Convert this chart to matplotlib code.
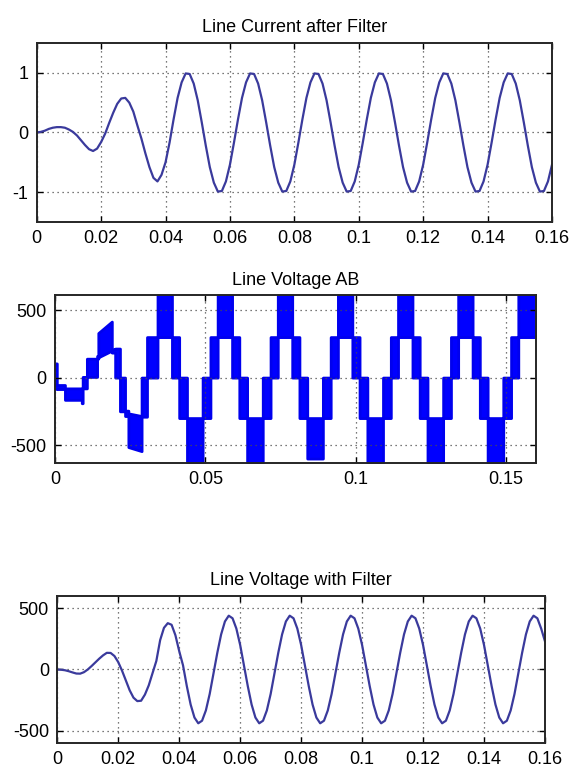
import matplotlib
matplotlib.use('Agg')
import matplotlib.pyplot as plt

plt.rcParams['font.family'] = ['Liberation Sans', 'DejaVu Sans']
plt.rcParams['font.size'] = 13
plt.rcParams['axes.unicode_minus'] = False

# sample times in ms (shared by the two filtered waveforms)
t_ms = [0, 1.25, 2.5, 3.75, 5, 6.25, 7.5, 8.75, 10, 11.25, 12.5, 13.75, 15, 16.25, 17.5, 18.75,
        20, 21.25, 22.5, 23.75, 25, 26.25, 27.5, 28.75, 30, 31.25, 32.5, 33.75, 35, 36.25, 37.5, 38.75,
        40, 41.25, 42.5, 43.75, 45, 46.25, 47.5, 48.75, 50, 51.25, 52.5, 53.75, 55, 56.25, 57.5, 58.75,
        60, 61.25, 62.5, 63.75, 65, 66.25, 67.5, 68.75, 70, 71.25, 72.5, 73.75, 75, 76.25, 77.5, 78.75,
        80, 81.25, 82.5, 83.75, 85, 86.25, 87.5, 88.75, 90, 91.25, 92.5, 93.75, 95, 96.25, 97.5, 98.75,
        100, 101.25, 102.5, 103.75, 105, 106.25, 107.5, 108.75, 110, 111.25, 112.5, 113.75, 115, 116.25, 117.5, 118.75,
        120, 121.25, 122.5, 123.75, 125, 126.25, 127.5, 128.75, 130, 131.25, 132.5, 133.75, 135, 136.25, 137.5, 138.75,
        140, 141.25, 142.5, 143.75, 145, 146.25, 147.5, 148.75, 150, 151.25, 152.5, 153.75, 155, 156.25, 157.5, 158.75,
        160]

# line current after filter (pu)
i_line = [0, 0.01, 0.03, 0.06, 0.08, 0.09, 0.09, 0.08, 0.05, 0.01, -0.05, -0.13, -0.21, -0.28, -0.31, -0.27,
          -0.16, -0.02, 0.16, 0.33, 0.48, 0.57, 0.58, 0.5, 0.35, 0.12, -0.1, -0.35, -0.58, -0.76, -0.82, -0.71,
          -0.5, -0.17, 0.22, 0.58, 0.84, 0.99, 0.98, 0.82, 0.54, 0.17, -0.22, -0.58, -0.84, -0.99, -0.98, -0.82,
          -0.54, -0.17, 0.22, 0.58, 0.84, 0.99, 0.98, 0.82, 0.54, 0.17, -0.22, -0.58, -0.84, -0.99, -0.98, -0.82,
          -0.54, -0.17, 0.22, 0.58, 0.84, 0.99, 0.98, 0.82, 0.54, 0.17, -0.22, -0.58, -0.84, -0.99, -0.98, -0.82,
          -0.54, -0.17, 0.22, 0.58, 0.84, 0.99, 0.98, 0.82, 0.54, 0.17, -0.22, -0.58, -0.84, -0.99, -0.98, -0.82,
          -0.54, -0.17, 0.22, 0.58, 0.84, 0.99, 0.98, 0.82, 0.54, 0.17, -0.22, -0.58, -0.84, -0.99, -0.98, -0.82,
          -0.54, -0.17, 0.22, 0.58, 0.84, 0.99, 0.98, 0.82, 0.54, 0.17, -0.22, -0.58, -0.84, -0.99, -0.98, -0.82,
          -0.54]

# line voltage with filter (V)
v_filt = [0, -2, -6, -14, -24, -33, -34, -22, 0, 28, 58, 88, 115, 136, 135, 110,
          60, -10, -90, -170, -230, -258, -255, -205, -130, -30, 70, 240, 340, 378, 365, 280,
          150, 34, -136, -286, -392, -439, -418, -334, -200, -34, 136, 286, 392, 439, 418, 334,
          200, 34, -136, -286, -392, -439, -418, -334, -200, -34, 136, 286, 392, 439, 418, 334,
          200, 34, -136, -286, -392, -439, -418, -334, -200, -34, 136, 286, 392, 439, 418, 334,
          200, 34, -136, -286, -392, -439, -418, -334, -200, -34, 136, 286, 392, 439, 418, 334,
          200, 34, -136, -286, -392, -439, -418, -334, -200, -34, 136, 286, 392, 439, 418, 334,
          200, 34, -136, -286, -392, -439, -418, -334, -200, -34, 136, 286, 392, 439, 418, 334,
          230]

# line voltage AB (unfiltered, PWM): envelope of the switching band
vab_t = [0.0, 0.0006, 0.0006, 0.0033, 0.0033, 0.0089, 0.0089, 0.0092, 0.0092, 0.0106,
         0.0106, 0.0140, 0.0140, 0.0144, 0.0144, 0.0189, 0.0189, 0.0200, 0.0200, 0.0216,
         0.0216, 0.0233, 0.0233, 0.0244, 0.0244, 0.0288, 0.0288, 0.0306, 0.0306, 0.0341,
         0.0341, 0.0389, 0.0389, 0.0413, 0.0413, 0.0439, 0.0439, 0.0491, 0.0491, 0.0517, 0.0517, 0.0541,
         0.0541, 0.0589, 0.0589, 0.0613, 0.0613, 0.0639, 0.0639, 0.0691, 0.0691, 0.0717, 0.0717, 0.0741,
         0.0741, 0.0789, 0.0789, 0.0813, 0.0813, 0.0839, 0.0839, 0.0891, 0.0891, 0.0917, 0.0917, 0.0941,
         0.0941, 0.0989, 0.0989, 0.1013, 0.1013, 0.1039, 0.1039, 0.1091, 0.1091, 0.1117, 0.1117, 0.1141,
         0.1141, 0.1189, 0.1189, 0.1213, 0.1213, 0.1239, 0.1239, 0.1291, 0.1291, 0.1317, 0.1317, 0.1341,
         0.1341, 0.1389, 0.1389, 0.1413, 0.1413, 0.1439, 0.1439, 0.1491, 0.1491, 0.1517, 0.1517, 0.1541,
         0.1541, 0.1600]
vab_lo = [-80, -80, -85, -85, -165, -165, -190, -190, -80, -80,
          5, 5, 140, 140, 150, 200, 185, 185, 0, 0,
          -250, -250, -285, -285, -515, -545, -290, -290, 0, 0,
          300, 300, 0, 0, -300, -300, -700, -700, -300, -300, 0, 0,
          300, 300, 0, 0, -300, -300, -700, -700, -300, -300, 0, 0,
          300, 300, 0, 0, -300, -300, -600, -600, -300, -300, 0, 0,
          300, 300, 0, 0, -300, -300, -700, -700, -300, -300, 0, 0,
          300, 300, 0, 0, -300, -300, -700, -700, -300, -300, 0, 0,
          300, 300, 0, 0, -300, -300, -700, -700, -300, -300, 0, 0,
          300, 300]
vab_hi = [105, 105, -55, -55, -80, -80, -80, -80, 5, 5,
          140, 140, 160, 160, 330, 415, 210, 210, 215, 215,
          0, 0, -245, -245, -265, -285, 0, 0, 300, 300,
          700, 700, 300, 300, 0, 0, -300, -300, 0, 0, 300, 300,
          700, 700, 300, 300, 0, 0, -300, -300, 0, 0, 300, 300,
          700, 700, 300, 300, 0, 0, -300, -300, 0, 0, 300, 300,
          700, 700, 300, 300, 0, 0, -300, -300, 0, 0, 300, 300,
          700, 700, 300, 300, 0, 0, -300, -300, 0, 0, 300, 300,
          700, 700, 300, 300, 0, 0, -300, -300, 0, 0, 300, 300,
          700, 700]

t_s = [x / 1000.0 for x in t_ms]

fig = plt.figure(figsize=(5.7, 7.69), dpi=100)
ax1 = fig.add_axes([0.0644, 0.7113, 0.904, 0.2328])
ax2 = fig.add_axes([0.0965, 0.3979, 0.8439, 0.2185])
ax3 = fig.add_axes([0.1005, 0.0338, 0.8556, 0.1912])

line_col = '#3a3a9c'

ax1.plot(t_s, i_line, color=line_col, lw=1.6)
ax1.set_xlim(0, 0.16)
ax1.set_ylim(-1.5, 1.5)
ax1.set_xticks([0, 0.02, 0.04, 0.06, 0.08, 0.1, 0.12, 0.14, 0.16])
ax1.set_xticklabels(['0', '0.02', '0.04', '0.06', '0.08', '0.1', '0.12', '0.14', '0.16'])
ax1.set_yticks([-1, 0, 1])
ax1.set_title('Line Current after Filter', fontsize=13, pad=8)

ax2.fill_between(vab_t, vab_lo, vab_hi, color='#0000ff', lw=2.0, edgecolor='#0000ee')
ax2.set_xlim(0, 0.16)
ax2.set_ylim(-633, 612)
ax2.set_xticks([0, 0.05, 0.1, 0.15])
ax2.set_xticklabels(['0', '0.05', '0.1', '0.15'])
ax2.set_yticks([-500, 0, 500])
ax2.set_title('Line Voltage AB', fontsize=13, pad=7)

ax3.plot(t_s, v_filt, color=line_col, lw=1.6)
ax3.set_xlim(0, 0.16)
ax3.set_ylim(-600, 600)
ax3.set_xticks([0, 0.02, 0.04, 0.06, 0.08, 0.1, 0.12, 0.14, 0.16])
ax3.set_xticklabels(['0', '0.02', '0.04', '0.06', '0.08', '0.1', '0.12', '0.14', '0.16'])
ax3.set_yticks([-500, 0, 500])
ax3.set_title('Line Voltage with Filter', fontsize=13, pad=8)

for ax in (ax1, ax2, ax3):
    ax.grid(True, linestyle=(0, (1, 3)), color='0.3', lw=0.9)
    ax.tick_params(direction='in', top=True, right=True, length=4, width=1, labelsize=13, pad=6)
    for sp in ax.spines.values():
        sp.set_linewidth(1.4)
        sp.set_color('0.15')

fig.savefig('out.png', dpi=100)
